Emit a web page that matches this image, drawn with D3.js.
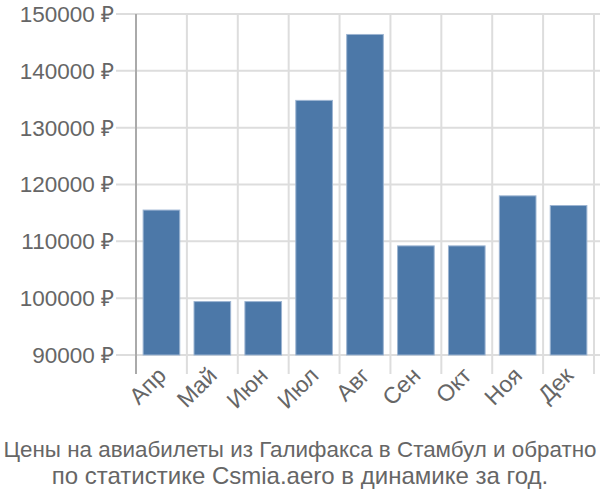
<!DOCTYPE html>
<html><head><meta charset="utf-8">
<script src="https://cdn.jsdelivr.net/npm/d3@7"></script>
<style>body{margin:0;background:#fff}svg{display:block}text{font-family:"Liberation Sans",Arial,sans-serif;fill:#666}</style>
</head><body>
<svg id="c" width="600" height="500"></svg>
<script>
const months = ["Апр","Май","Июн","Июл","Авг","Сен","Окт","Ноя","Дек"];
const prices = [115500, 99400, 99400, 134800, 146400, 109200, 109200, 118000, 116300];
const yTicks = [90000,100000,110000,120000,130000,140000,150000];
const titleLines = ["Цены на авиабилеты из Галифакса в Стамбул и обратно","по статистике Csmia.aero в динамике за год."];
const titleSizes = [22.4, 24];

const svg = d3.select("#c");
const x = d3.scaleBand().domain(months).range([136, 594]).paddingInner(0.28).paddingOuter(0.14);
const y = d3.scaleLinear().domain([90000,150000]).range([355, 14]);

// horizontal grid
svg.append("g").selectAll("line").data(yTicks).join("line")
  .attr("x1",116).attr("x2",600).attr("y1",d=>y(d)).attr("y2",d=>y(d))
  .attr("stroke","#ddd").attr("stroke-width",2);
// vertical grid
const step = x.step();
const vx = d3.range(months.length+1).map(i=>136+i*step);
svg.append("g").selectAll("line").data(vx).join("line")
  .attr("x1",d=>d).attr("x2",d=>d).attr("y1",14).attr("y2",374)
  .attr("stroke",(d,i)=>i===0?"#aaa":"#ddd").attr("stroke-width",2);

// y labels
svg.append("g").selectAll("text").data(yTicks).join("text")
  .attr("x",114).attr("y",d=>y(d)).attr("dy","0.35em").attr("text-anchor","end")
  .style("font-size","22.5px").text(d=>d+" ₽");

// bars
svg.append("g").selectAll("rect").data(prices).join("rect")
  .attr("x",(d,i)=>x(months[i])).attr("width",x.bandwidth())
  .attr("y",d=>y(d)).attr("height",d=>y(90000)-y(d))
  .attr("fill","#4c78a8").attr("stroke","#9db5d2").attr("stroke-width",1);

// x labels
svg.append("g").selectAll("text").data(months).join("text")
  .attr("text-anchor","end")
  .attr("transform",d=>`translate(${x(d)+x.bandwidth()/2+6},${377}) rotate(-45)`)
  .style("font-size","23px").text(d=>d);

// title
svg.append("g").selectAll("text").data(titleLines).join("text")
  .attr("x",300).attr("y",(d,i)=>456.5+i*27).attr("text-anchor","middle")
  .style("font-size",(d,i)=>titleSizes[i]+"px").text(d=>d);
</script>
</body></html>
